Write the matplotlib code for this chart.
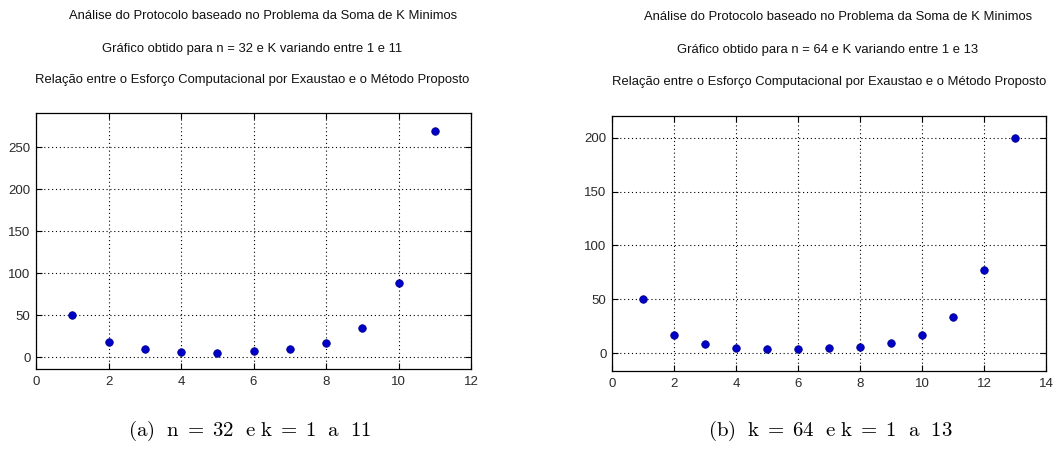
import matplotlib
matplotlib.use("Agg")
import matplotlib.pyplot as plt

# Data
k_a = [1, 2, 3, 4, 5, 6, 7, 8, 9, 10, 11]
ratio_a = [50, 18, 9.6, 6.8, 5.6, 7.2, 9.6, 16.7, 34.6, 88.4, 270]
k_b = [1, 2, 3, 4, 5, 6, 7, 8, 9, 10, 11, 12, 13]
ratio_b = [50, 16.6, 8.3, 4.6, 3.7, 3.7, 4.6, 5.5, 9.2, 16.6, 34.2, 77.5, 200]

title_line1 = "Análise do Protocolo baseado no Problema da Soma de K Minimos"
titles_line2 = ["Gráfico obtido para n = 32 e K variando entre 1 e 11",
                "Gráfico obtido para n = 64 e K variando entre 1 e 13"]
title_line3 = "Relação entre o Esforço Computacional por Exaustao e o Método Proposto"
captions = [r"$\mathrm{(a)}\ \ \mathrm{n}\;=\;32\ \ \mathrm{e}\ \mathrm{k}\;=\;1\ \ \mathrm{a}\ \ 11$",
            r"$\mathrm{(b)}\ \ \mathrm{k}\;=\;64\ \ \mathrm{e}\ \mathrm{k}\;=\;1\ \ \mathrm{a}\ \ 13$"]

plt.rcParams['font.family'] = ['Liberation Sans', 'DejaVu Sans']
plt.rcParams['mathtext.fontset'] = 'cm'

fig = plt.figure(figsize=(10.54, 4.5), dpi=100)

W, H = 1054, 450
axes_px = [(36, 113, 471, 369), (612, 116, 1046, 371)]
xlims = [(0, 12), (0, 14)]
ylims = [(-14, 291), (-16.3, 220)]
yticks = [[0, 50, 100, 150, 200, 250], [0, 50, 100, 150, 200]]
xticks = [list(range(0, 13, 2)), list(range(0, 15, 2))]
datasets = [(k_a, ratio_a), (k_b, ratio_b)]
title_cx = [(263, 252, 252), (838, 828, 829)]
title_cy = [(16, 49, 80), (17, 50, 82)]
caption_cx = [250, 830]

for i in range(2):
    x0, y0, x1, y1 = axes_px[i]
    ax = fig.add_axes([x0 / W, 1 - y1 / H, (x1 - x0) / W, (y1 - y0) / H])
    xs, ys = datasets[i]
    ax.plot(xs, ys, linestyle='none', marker='o', markersize=5.4,
            color='#0000c8', markeredgecolor='#00008c', markeredgewidth=0.6)
    ax.set_xlim(*xlims[i])
    ax.set_ylim(*ylims[i])
    ax.set_xticks(xticks[i])
    ax.set_yticks(yticks[i])
    ax.grid(True, linestyle=(0, (1, 2.5)), color='black', linewidth=0.8)
    ax.tick_params(direction='in', length=4, width=0.8, top=True, right=True,
                   labelsize=9.5, labelcolor='#2a2a2a')
    ax.tick_params(axis='x', pad=5)
    ax.tick_params(axis='y', pad=4)
    for s in ax.spines.values():
        s.set_linewidth(0.9)
        s.set_color('black')
    lines = [title_line1, titles_line2[i], title_line3]
    for j in range(3):
        fig.text(title_cx[i][j] / W, 1 - title_cy[i][j] / H, lines[j],
                 ha='center', va='center', fontsize=9.4, color='#111111')
    fig.text(caption_cx[i] / W, 1 - 431 / H, captions[i], ha='center', va='center',
             fontsize=15)

fig.savefig("out.png", dpi=100)
